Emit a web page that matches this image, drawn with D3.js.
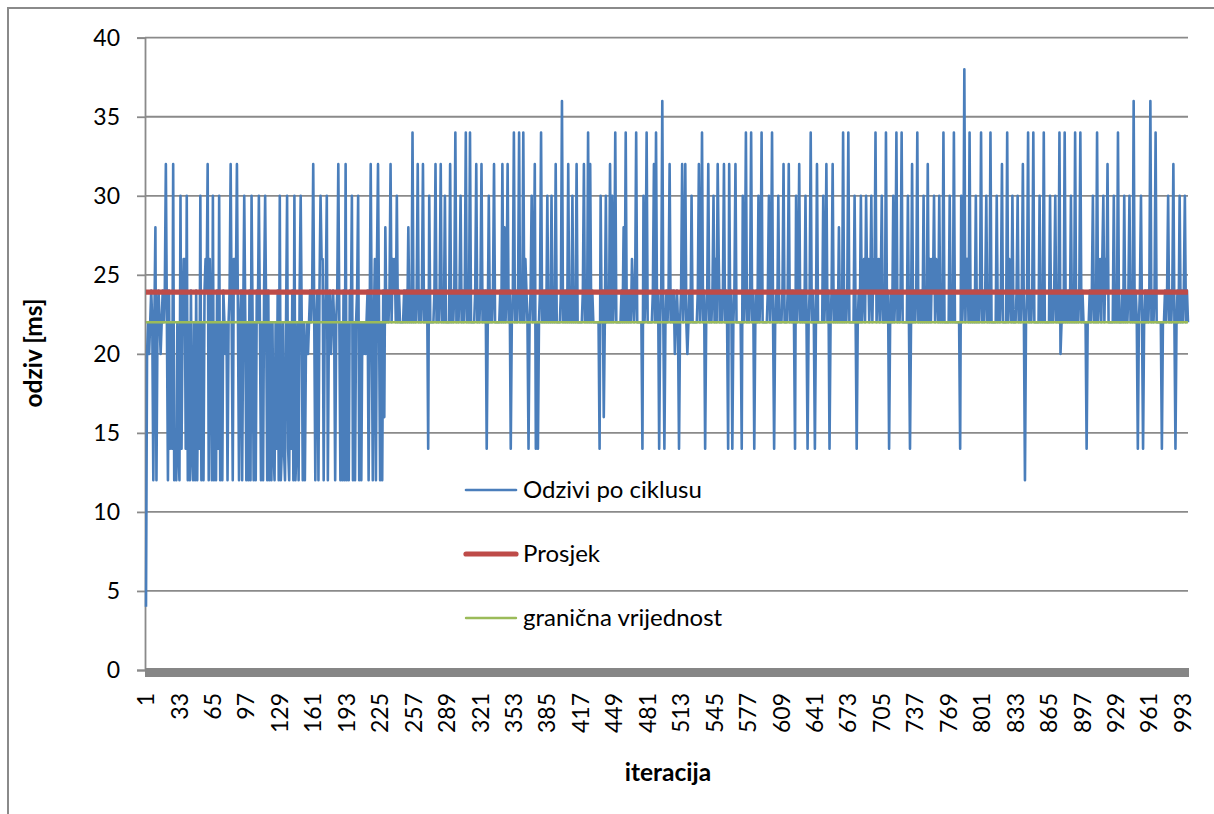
<!DOCTYPE html>
<html><head><meta charset="utf-8">
<script src="https://cdn.jsdelivr.net/npm/d3@7"></script>
<style>body{margin:0;background:#fff}svg{display:block}text{font-family:Lato,"Noto Sans",sans-serif;fill:#000}</style>
</head><body><svg id="c" width="1214" height="814"></svg>
<script>
// Series 1: "Odzivi po ciklusu" (response time per cycle, ms)
const odzivi = [
4,20,22,20,22,24,22,12,22,28,12,22,24,22,20,22,24,22,24,32,
22,12,24,14,22,14,32,12,14,12,22,14,12,30,14,22,26,26,14,30,
12,22,12,24,14,12,22,12,24,12,22,14,30,12,22,12,24,26,24,32,
12,26,22,12,30,12,22,12,24,14,30,12,22,12,24,22,20,22,12,22,
24,32,22,12,26,26,24,32,22,12,22,24,12,22,30,22,12,22,12,24,
12,30,22,12,22,12,24,22,30,22,12,22,12,24,30,22,12,24,12,22,
12,22,14,12,22,14,24,12,30,12,14,22,14,12,22,30,14,12,22,14,
24,12,30,12,14,22,12,24,30,22,12,22,12,20,22,20,22,24,22,24,
32,22,12,22,24,12,24,30,26,26,12,22,24,30,12,22,24,20,22,24,
22,12,22,24,32,22,12,22,12,24,12,32,12,22,12,24,22,30,12,22,
12,22,24,30,12,22,12,22,20,22,20,22,24,12,22,32,22,12,22,26,
12,26,32,22,12,22,12,24,16,28,22,24,22,24,32,22,26,24,26,22,
30,22,24,22,22,22,22,24,22,24,22,28,22,24,22,34,22,24,22,24,
32,22,24,22,24,32,22,24,22,24,14,30,22,22,22,22,24,32,22,24,
22,24,32,22,24,22,30,22,22,22,22,32,22,24,22,24,34,22,24,22,
24,30,22,24,22,24,34,22,24,22,34,22,22,22,22,24,32,22,24,22,
24,32,22,24,22,24,14,22,30,22,24,22,24,32,22,22,22,22,22,24,
22,32,22,28,22,24,32,22,24,14,22,24,34,22,24,22,24,34,22,24,
22,34,22,26,24,22,14,22,24,30,22,24,32,14,22,14,22,24,34,22,
24,22,24,22,30,22,24,22,30,22,24,22,32,22,22,22,22,24,36,22,
24,22,24,22,32,22,24,22,30,22,24,22,32,22,22,22,22,22,24,32,
22,24,22,34,22,32,22,24,22,22,22,22,22,22,14,30,22,24,16,22,
30,22,24,22,32,22,30,22,24,34,22,22,22,22,22,24,22,28,22,34,
22,24,22,24,22,26,24,22,24,34,22,22,22,22,22,14,30,22,24,34,
22,22,22,22,22,24,32,22,34,22,24,14,22,24,36,22,14,22,24,22,
24,32,22,24,22,24,20,22,24,22,14,22,24,32,22,24,32,22,20,22,
24,22,30,22,22,22,22,22,24,32,22,24,34,22,24,14,22,24,32,22,
24,22,24,30,22,26,22,32,26,22,24,22,24,32,22,24,22,14,32,22,
24,14,22,24,32,22,22,22,22,22,14,30,22,24,34,22,24,22,24,34,
22,24,14,22,24,22,30,22,24,34,22,22,22,22,22,24,30,22,24,34,
22,14,22,24,22,30,22,22,22,24,32,22,22,22,24,32,22,24,22,24,
22,14,30,22,24,32,22,24,22,24,22,30,22,14,22,24,34,22,24,22,
14,22,32,22,22,22,22,22,30,22,24,32,22,24,14,22,24,32,22,24,
22,24,22,28,22,24,22,34,22,24,22,24,34,22,22,22,22,22,30,22,
14,22,24,22,30,22,24,26,22,30,24,26,22,24,30,22,26,24,34,22,
24,26,22,24,30,22,22,22,34,22,24,14,22,24,22,30,22,24,34,22,
24,22,24,34,22,22,22,22,22,30,22,14,22,32,22,24,22,24,34,22,
24,22,24,22,30,22,24,22,32,22,26,22,26,24,30,22,26,24,22,30,
22,24,22,34,22,22,22,22,22,30,22,24,22,34,22,22,22,22,22,14,
30,22,24,38,22,26,26,22,34,22,24,22,24,22,30,22,24,22,24,34,
22,24,22,24,30,22,24,22,34,22,22,22,22,22,30,22,24,22,24,32,
22,22,22,22,34,22,26,24,22,30,22,22,22,24,30,22,24,22,24,32,
22,12,22,24,34,22,24,22,24,34,22,22,22,22,22,30,22,24,22,34,
22,22,22,22,22,30,22,24,22,24,30,22,24,22,34,20,22,24,22,34,
22,24,22,24,22,30,22,24,22,34,22,24,22,24,34,22,24,22,22,22,
14,22,22,24,22,24,30,22,24,22,34,22,24,26,22,26,30,22,26,24,
32,22,22,22,22,22,30,22,24,22,34,22,22,22,24,22,30,22,24,22,
24,30,22,24,22,36,22,24,22,14,22,24,30,22,14,22,24,22,24,22,
24,36,22,24,22,24,34,22,22,22,22,22,14,22,22,24,22,24,30,22,
24,22,24,32,22,14,22,24,22,30,22,24,22,24,30,22,24,22
];
// Series 2: "Prosjek" (average) and series 3: "granična vrijednost" (limit)
const prosjek = 23.9;
const granicna = 22;
// Axis ticks
const yTicks = [0, 5, 10, 15, 20, 25, 30, 35, 40];
const xTickLabels = [1,33,65,97,129,161,193,225,257,289,321,353,385,417,449,481,513,545,577,609,641,673,705,737,769,801,833,865,897,929,961,993];
const legendNames = ["Odzivi po ciklusu", "Prosjek", "granična vrijednost"];
const colors = {blue: "#4a7ebb", red: "#be4b48", green: "#9bbb59", grid: "#8a8a8a"};

const categories = odzivi.map((d, i) => i + 1);
const svg = d3.select("#c");
const x = d3.scalePoint().domain(categories).range([146, 1188]);
const y = d3.scaleLinear().domain([0, 40]).range([670, 37.7]);

// outer chart border (left and top visible)
svg.append("path").attr("d", "M8,814V8H1214").attr("fill", "none")
  .attr("stroke", colors.grid).attr("stroke-width", 2);

// gridlines
svg.append("g").selectAll("line").data(yTicks.filter(d => d > 0)).join("line")
  .attr("x1", 145).attr("x2", 1188).attr("y1", d => y(d)).attr("y2", d => y(d))
  .attr("stroke", colors.grid).attr("stroke-width", 1.8);

// y axis
const yAxis = svg.append("g").attr("transform", "translate(145,0)")
  .call(d3.axisLeft(y).tickValues(yTicks).tickSize(8).tickPadding(17).tickFormat(d3.format("d")));
yAxis.select(".domain").attr("stroke", colors.grid).attr("stroke-width", 1.8);
yAxis.selectAll(".tick line").attr("stroke", colors.grid).attr("stroke-width", 1.8);
yAxis.selectAll(".tick text").attr("font-size", 23).attr("font-family", "Lato").attr("fill", "#000");

// thick x axis band at 0
svg.append("rect").attr("x", 145).attr("y", y(0) - 2).attr("width", 1189 - 145).attr("height", 9)
  .attr("fill", "#868686");

// x tick labels (rotated)
svg.append("g").selectAll("text").data(xTickLabels).join("text")
  .attr("transform", d => `translate(${x(d)},693) rotate(-90)`)
  .attr("text-anchor", "end").attr("dy", "0.35em")
  .attr("font-size", 23).text(d => d);

// series
const line = d3.line().x((d, i) => x(categories[i])).y(d => y(d)).curve(d3.curveLinear);
svg.append("path").datum(odzivi).attr("d", line).attr("fill", "none")
  .attr("stroke", colors.blue).attr("stroke-width", 2.6).attr("stroke-linejoin", "round");
svg.append("line").attr("x1", x(1)).attr("x2", x(categories[categories.length - 1]))
  .attr("y1", y(prosjek)).attr("y2", y(prosjek)).attr("stroke", colors.red).attr("stroke-width", 5.2);
svg.append("line").attr("x1", x(1)).attr("x2", x(categories[categories.length - 1]))
  .attr("y1", y(granicna)).attr("y2", y(granicna)).attr("stroke", colors.green).attr("stroke-width", 2.4);

// axis titles
svg.append("text").attr("transform", "translate(33,353) rotate(-90)").attr("text-anchor", "middle")
  .attr("dy", "0.35em").attr("font-size", 24.5).attr("font-weight", "bold").text("odziv [ms]");
svg.append("text").attr("x", 668).attr("y", 772).attr("text-anchor", "middle")
  .attr("dy", "0.35em").attr("font-size", 24.5).attr("font-weight", "bold").text("iteracija");

// legend
const leg = [
  {name: legendNames[0], color: colors.blue, w: 2.6, y: 490},
  {name: legendNames[1], color: colors.red, w: 5.2, y: 554},
  {name: legendNames[2], color: colors.green, w: 2.4, y: 618}
];
const lg = svg.append("g").selectAll("g").data(leg).join("g");
lg.append("line").attr("x1", 466).attr("x2", 516).attr("y1", d => d.y).attr("y2", d => d.y)
  .attr("stroke", d => d.color).attr("stroke-width", d => d.w).attr("stroke-linecap", "round");
lg.append("text").attr("x", 523).attr("y", d => d.y).attr("dy", "0.35em")
  .attr("font-size", 24).text(d => d.name);
</script></body></html>
